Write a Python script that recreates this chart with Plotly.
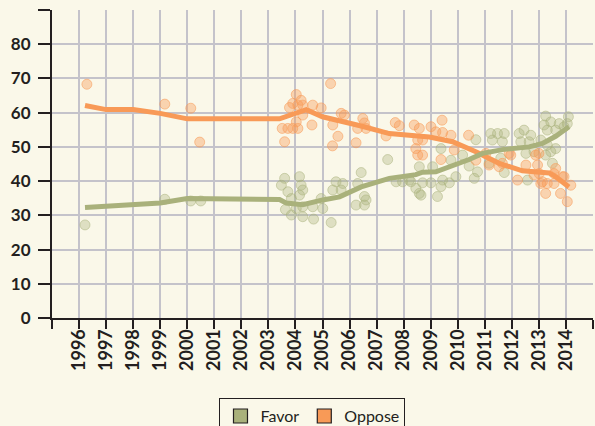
import plotly.graph_objects as go

# ---- data ----
year_ticks = list(range(1995, 2016))
year_labels = [""] + [str(y) for y in range(1996, 2015)] + [""]
value_ticks = list(range(0, 100, 10))
value_labels = [str(v) for v in range(0, 90, 10)] + [""]

favor_x = [1996.22, 1999.17, 2000.13, 2000.50, 2003.48, 2003.60, 2003.63, 2003.72, 2003.85, 2003.85,
           2004.03, 2004.15, 2004.15, 2004.21, 2004.27, 2004.27, 2004.27, 2004.64, 2004.67, 2004.95,
           2005.01, 2005.32, 2005.38, 2005.50, 2005.69, 2005.75, 2006.24, 2006.30, 2006.43, 2006.55,
           2006.55, 2006.61, 2007.41, 2007.72, 2007.96, 2008.21, 2008.27, 2008.45, 2008.58, 2008.58,
           2008.64, 2008.70, 2009.01, 2009.07, 2009.25, 2009.38, 2009.38, 2009.44, 2009.69, 2009.75,
           2009.93, 2010.18, 2010.42, 2010.61, 2010.67, 2010.73, 2011.16, 2011.22, 2011.28, 2011.47,
           2011.59, 2011.65, 2011.72, 2011.72, 2012.27, 2012.33, 2012.45, 2012.52, 2012.58, 2012.64,
           2012.70, 2012.82, 2013.07, 2013.19, 2013.25, 2013.25, 2013.31, 2013.31, 2013.44, 2013.44,
           2013.50, 2013.62, 2013.62, 2013.75, 2013.93, 2014.05, 2014.09]
favor_y = [27.2, 34.7, 34.2, 34.2, 38.8, 40.8, 31.7, 36.9, 34.9, 30.1,
           32.0, 41.3, 35.9, 38.8, 37.4, 32.5, 29.6, 32.5, 28.9, 34.9,
           32.0, 27.9, 37.4, 39.8, 37.4, 39.3, 33.0, 39.3, 42.5, 35.5,
           33.0, 34.5, 46.3, 39.8, 39.8, 40.3, 39.8, 37.9, 44.2, 36.4,
           35.9, 39.5, 39.5, 44.2, 35.5, 49.5, 38.4, 40.3, 39.5, 46.1,
           41.3, 47.6, 44.4, 40.8, 52.1, 42.7, 45.2, 53.9, 52.0, 53.9,
           46.7, 51.5, 53.9, 42.5, 53.9, 51.5, 54.9, 48.1, 40.3, 51.5,
           53.4, 48.6, 52.0, 56.4, 59.0, 47.6, 54.9, 50.5, 57.3, 48.6,
           45.2, 54.9, 49.5, 56.8, 55.9, 56.8, 58.8]

oppose_x = [1996.29, 1999.17, 2000.13, 2000.46, 2003.51, 2003.60, 2003.72, 2003.78, 2003.90, 2003.90,
            2004.03, 2004.03, 2004.09, 2004.09, 2004.21, 2004.27, 2004.27, 2004.64, 2004.61, 2004.95,
            2005.30, 2005.38, 2005.37, 2005.57, 2005.69, 2005.81, 2006.24, 2006.30, 2006.49, 2006.55,
            2006.61, 2007.35, 2007.69, 2007.84, 2008.39, 2008.58, 2008.45, 2008.52, 2008.70, 2008.52,
            2008.70, 2009.01, 2009.19, 2009.42, 2009.44, 2009.38, 2009.75, 2009.87, 2010.40, 2010.67,
            2011.04, 2011.16, 2011.53, 2011.65, 2011.90, 2011.96, 2012.21, 2012.52, 2012.82, 2012.88,
            2012.95, 2013.01, 2013.07, 2013.13, 2013.25, 2013.31, 2013.56, 2013.56, 2013.62, 2013.80,
            2013.87, 2013.93, 2014.05, 2014.18, 2013.00]
oppose_y = [68.3, 62.5, 61.3, 51.4, 55.4, 51.5, 55.4, 61.5, 62.7, 55.4,
            65.3, 57.3, 62.2, 55.4, 63.6, 62.2, 59.3, 62.2, 56.4, 61.4,
            68.5, 56.4, 50.3, 53.1, 59.8, 59.3, 51.2, 55.4, 58.3, 57.0,
            55.4, 53.2, 57.1, 56.2, 56.4, 55.4, 49.5, 52.0, 52.0, 47.6,
            47.6, 55.9, 54.4, 57.8, 54.2, 46.3, 53.4, 49.1, 53.4, 46.1,
            48.1, 44.7, 44.2, 45.2, 48.1, 47.6, 40.3, 44.7, 41.8, 47.6,
            44.7, 42.2, 39.3, 39.8, 36.4, 39.3, 39.3, 42.2, 43.7, 36.4,
            41.3, 41.3, 34.0, 38.8, 48.1]

favor_trend_x = [1996.22, 1998.0, 1999.0, 2000.0, 2003.41, 2003.66, 2004.27, 2005.01, 2005.63, 2006.43,
                 2007.47, 2008.45, 2008.70, 2009.19, 2009.93, 2010.42, 2010.92, 2011.65, 2012.64, 2013.13,
                 2013.62, 2014.11]
favor_trend_y = [32.3, 33.3, 33.6, 34.9, 34.6, 33.6, 33.1, 34.5, 35.4, 38.3,
                 40.8, 41.9, 42.6, 42.7, 44.7, 46.3, 48.1, 49.2, 50.0, 51.0,
                 53.1, 55.9]

oppose_trend_x = [1996.22, 1997.0, 1998.0, 1999.0, 2000.0, 2003.41, 2004.40, 2005.0, 2006.43, 2007.47,
                  2008.95, 2009.81, 2010.67, 2011.53, 2012.39, 2013.38, 2013.62, 2014.11]
oppose_trend_y = [62.1, 60.9, 60.9, 59.8, 58.2, 58.2, 60.9, 58.8, 56.1, 53.9,
                  52.9, 51.5, 48.6, 45.2, 43.0, 42.4, 41.3, 38.3]

series_names = ["Favor", "Oppose"]

# ---- styles ----
BG = "#FAF8E9"
GRID = "#C4C3CA"
INK = "#231F20"
OLIVE = "#A9B17B"
ORANGE = "#F89A57"
FONT = "Lato"

fig = go.Figure()

fig.add_trace(go.Scatter(
    x=favor_x, y=favor_y, mode="markers", showlegend=False, hoverinfo="skip",
    marker=dict(size=10, color="rgba(169,177,123,0.35)",
                line=dict(color="rgba(169,177,123,0.5)", width=1))))
fig.add_trace(go.Scatter(
    x=oppose_x, y=oppose_y, mode="markers", showlegend=False, hoverinfo="skip",
    marker=dict(size=10, color="rgba(248,154,87,0.4)",
                line=dict(color="rgba(248,154,87,0.55)", width=1))))
fig.add_trace(go.Scatter(
    x=oppose_trend_x, y=oppose_trend_y, mode="lines", showlegend=False, hoverinfo="skip",
    line=dict(color=ORANGE, width=5)))
fig.add_trace(go.Scatter(
    x=favor_trend_x, y=favor_trend_y, mode="lines", showlegend=False, hoverinfo="skip",
    line=dict(color=OLIVE, width=5)))

# legend swatches
for name, col in zip(series_names, [OLIVE, ORANGE]):
    fig.add_trace(go.Scatter(
        x=[None], y=[None], mode="markers", name=name,
        marker=dict(symbol="square", size=14, color=col, line=dict(color=INK, width=1.2))))

fig.update_layout(
    width=595, height=426,
    paper_bgcolor=BG, plot_bgcolor=BG,
    margin=dict(l=52, r=2, t=10, b=108, autoexpand=False),
    font=dict(family=FONT, color=INK),
    legend=dict(orientation="h", x=0.4815, xanchor="center", y=-0.26, yanchor="top",
                bordercolor=INK, borderwidth=1, bgcolor="rgba(0,0,0,0)",
                font=dict(size=16, family=FONT, color=INK), itemwidth=30,
                traceorder="normal"),
    xaxis=dict(range=[1995, 2015], tickmode="array", tickvals=year_ticks, ticktext=year_labels,
               tickangle=-90, ticks="outside", ticklen=9, tickwidth=2, tickcolor=INK,
               showline=True, linecolor=INK, linewidth=2,
               showgrid=True, gridcolor=GRID, gridwidth=1.8, zeroline=False,
               ticklabelstandoff=-7,
               tickfont=dict(size=18, family=FONT, color=INK, weight="bold")),
    yaxis=dict(range=[0, 90], tickmode="array", tickvals=value_ticks, ticktext=value_labels,
               ticks="outside", ticklen=12, tickwidth=2, tickcolor=INK,
               showline=True, linecolor=INK, linewidth=2,
               showgrid=True, gridcolor=GRID, gridwidth=1.8, zeroline=False,
               ticklabelstandoff=4,
               tickfont=dict(size=17, family=FONT, color=INK, weight="bold")),
)

fig.write_html("out.html", config={"displayModeBar": False},
               post_script="document.body.style.margin='0';")
